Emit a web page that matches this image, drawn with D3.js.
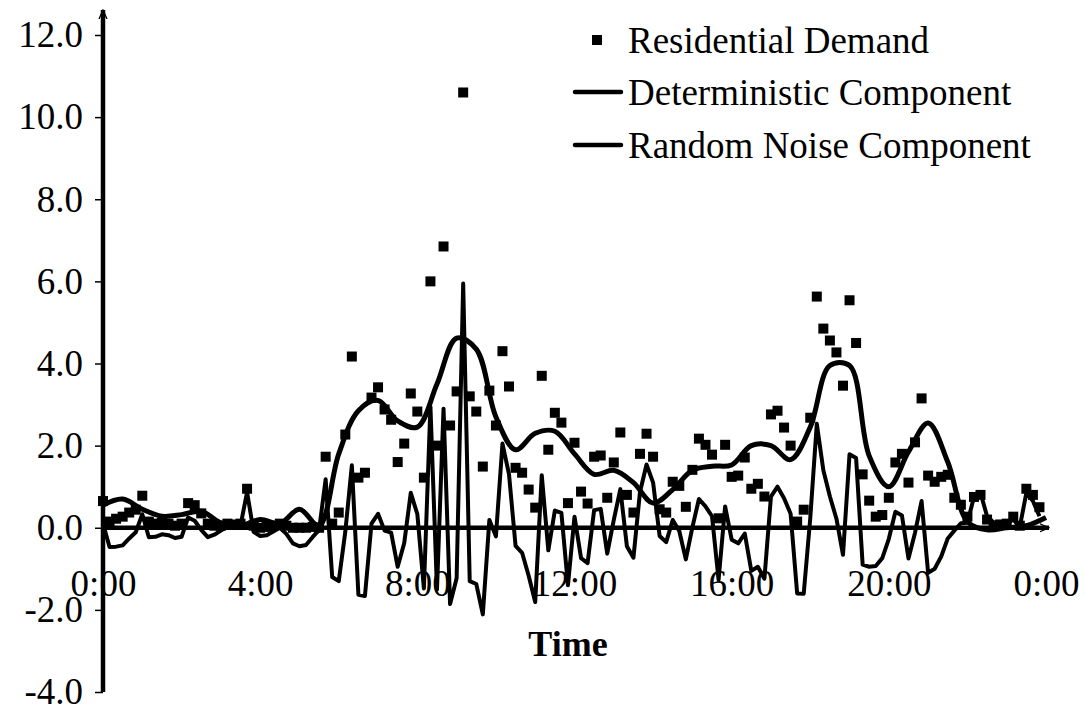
<!DOCTYPE html>
<html>
<head>
<meta charset="utf-8">
<script src="https://cdn.jsdelivr.net/npm/d3@7"></script>
<style>
  body { margin: 0; background: #fff; }
  text { font-family: "Liberation Serif", "Times New Roman", serif; fill: #000; }
</style>
</head>
<body>
<div id="viz"></div>
<script>
// residential demand, one reading every 10 minutes (0:00 .. 23:50)
var demand = [
  0.65, 0.15, 0.22, 0.27, 0.37, 0.44, 0.78, 0.15, 0.1, 0.12, 0.1, 0.05,
  0.1, 0.6, 0.55, 0.35, 0.1, 0.05, 0.05, 0.1, 0.08, 0.1, 0.95, 0.05,
  0.0, 0.02, 0.05, 0.1, 0.05, 0.0, 0.0, 0.0, 0.02, 0.0, 1.73, 0.1,
  0.37, 2.27, 4.17, 1.22, 1.34, 3.17, 3.42, 2.88, 2.63, 1.6, 2.05, 3.27,
  2.83, 1.22, 6.0, 2.0, 6.85, 2.49, 3.32, 10.6, 3.2, 2.83, 1.49, 3.34,
  2.49, 4.3, 3.44, 1.46, 1.34, 0.93, 0.49, 3.7, 1.9, 2.8, 2.56, 0.6,
  2.07, 0.88, 0.59, 1.73, 1.76, 0.73, 1.59, 2.32, 0.8, 0.37, 1.8, 2.29,
  1.73, 0.45, 0.37, 1.12, 1.02, 0.51, 1.41, 2.17, 2.02, 1.78, 0.23, 2.02,
  1.24, 1.27, 1.71, 0.95, 1.07, 0.76, 2.76, 2.85, 2.44, 2.0, 0.15, 0.44,
  2.68, 5.63, 4.85, 4.56, 4.27, 3.46, 5.54, 4.5, 1.3, 0.66, 0.27, 0.31,
  0.73, 1.59, 1.8, 1.1, 2.08, 3.15, 1.27, 1.12, 1.24, 1.29, 0.73, 0.56,
  0.27, 0.75, 0.8, 0.2, 0.05, 0.08, 0.1, 0.27, 0.05, 0.95, 0.8, 0.5
];

// random noise component, same 10 minute grid
var noise = [
  0.1, -0.47, -0.46, -0.43, -0.26, -0.11, 0.33, -0.23, -0.22, -0.16, -0.18, -0.25,
  -0.22, 0.25, 0.17, -0.05, -0.23, -0.17, -0.07, 0.03, 0.03, 0.05, 0.87, -0.1,
  -0.2, -0.18, -0.09, 0.0, -0.15, -0.38, -0.45, -0.42, -0.23, -0.05, 1.18, -1.2,
  -1.3, -0.1, 1.52, -1.63, -1.66, 0.1, 0.34, -0.07, -0.12, -0.95, -0.37, 0.85,
  0.33, -1.48, 2.95, -1.5, 2.9, -1.86, -1.23, 5.95, -1.3, -1.37, -2.11, 0.19,
  -0.21, 2.05, 1.3, -0.44, -0.61, -1.17, -1.81, 1.28, -0.55, 0.42, 0.36, -1.4,
  0.27, -0.74, -0.86, 0.43, 0.46, -0.63, 0.19, 0.94, -0.45, -0.73, 0.87, 1.54,
  1.1, -0.2, -0.35, 0.19, -0.08, -0.77, 0.01, 0.7, 0.52, 0.28, -1.27, 0.52,
  -0.29, -0.38, -0.14, -1.05, -0.95, -1.24, 0.76, 1.0, 0.72, 0.34, -1.6, -1.61,
  0.23, 2.53, 1.4, 0.76, 0.22, -0.66, 1.79, 1.7, -0.9, -0.95, -0.93, -0.74,
  -0.27, 0.39, 0.3, -0.75, -0.12, 0.65, -1.1, -1.0, -0.7, -0.26, -0.07, 0.11,
  0.12, 0.75, 0.85, 0.28, 0.13, 0.13, 0.1, 0.2, 0.02, 0.85, 0.65, 0.28
];

// deterministic component, every 30 minutes (0:00 .. 24:00)
var deterministic = [
  0.55, 0.7, 0.45, 0.28, 0.32, 0.4, 0.12, 0.05, 0.2, 0.1, 0.45, 0.05,
  1.8, 2.85, 3.1, 2.6, 2.45, 3.5, 4.62, 4.35, 2.7, 1.9, 2.3, 2.35,
  1.8, 1.3, 1.4, 1.1, 0.6, 0.93, 1.4, 1.5, 1.53, 2.0, 2.0, 1.66,
  2.45, 3.95, 3.95, 1.75, 1.0, 1.85, 2.55, 1.6, 0.15, -0.05, 0.0, 0.05,
  0.25
];

var demandMinutes = d3.range(0, 1440, 10);
var detMinutes = d3.range(0, 1441, 30);

var xTicks = [0, 240, 480, 720, 960, 1200, 1440];
var xTickLabels = ['0:00', '4:00', '8:00', '12:00', '16:00', '20:00', '0:00'];
var yTicks = [-4, -2, 0, 2, 4, 6, 8, 10, 12];

var legendNames = ['Residential Demand', 'Deterministic Component', 'Random Noise Component'];

var width = 1086,
    height = 707,
    fontSize = 37;

var x = d3.scaleLinear().domain([0, 1440]).range([103, 1046]);
var y = d3.scaleLinear().domain([-4, 12]).range([692, 35]);

var svg = d3.select('#viz').append('svg')
    .attr('width', width)
    .attr('height', height);

var defs = svg.append('defs');
defs.append('marker')
    .attr('id', 'arrow')
    .attr('viewBox', '0 -5 10 10')
    .attr('refX', 9)
    .attr('refY', 0)
    .attr('markerWidth', 10)
    .attr('markerHeight', 10)
    .attr('markerUnits', 'userSpaceOnUse')
    .attr('orient', 'auto')
  .append('path')
    .attr('d', 'M0,-4L9,0L0,4')
    .attr('fill', 'none')
    .attr('stroke', '#000')
    .attr('stroke-width', 1.3);

// y axis ticks + labels
var yAxis = svg.append('g')
    .attr('transform', 'translate(' + x(0) + ',0)')
    .call(d3.axisLeft(y)
        .tickValues(yTicks)
        .tickSize(8)
        .tickPadding(12)
        .tickFormat(function(d) { return d.toFixed(1); }));
yAxis.select('.domain').remove();
yAxis.selectAll('line').attr('stroke', '#000').attr('stroke-width', 1.5);
yAxis.selectAll('text')
    .style('font-family', '"Liberation Serif", serif')
    .style('font-size', fontSize + 'px');

// x axis labels
var xAxis = svg.append('g')
    .attr('transform', 'translate(0,' + y(0) + ')')
    .call(d3.axisBottom(x)
        .tickValues(xTicks)
        .tickSize(0)
        .tickPadding(42)
        .tickFormat(function(d, i) { return xTickLabels[i]; }));
xAxis.select('.domain').remove();
xAxis.selectAll('text')
    .style('font-family', '"Liberation Serif", serif')
    .style('font-size', fontSize + 'px');

// main axis lines with arrows
svg.append('line')
    .attr('x1', x(0)).attr('x2', x(0))
    .attr('y1', y(-4)).attr('y2', 10)
    .attr('stroke', '#000').attr('stroke-width', 4.5)
    .attr('marker-end', 'url(#arrow)');
svg.append('line')
    .attr('x1', x(0)).attr('x2', 1049)
    .attr('y1', y(0)).attr('y2', y(0))
    .attr('stroke', '#000').attr('stroke-width', 4.5)
    .attr('marker-end', 'url(#arrow)');

// noise line
var noiseLine = d3.line()
    .x(function(d, i) { return x(demandMinutes[i]); })
    .y(function(d) { return y(d); });

svg.append('path')
    .datum(noise)
    .attr('d', noiseLine)
    .attr('fill', 'none')
    .attr('stroke', '#000')
    .attr('stroke-width', 4)
    .attr('stroke-linejoin', 'round');

// deterministic smooth line
var detLine = d3.line()
    .x(function(d, i) { return x(detMinutes[i]); })
    .y(function(d) { return y(d); })
    .curve(d3.curveCatmullRom.alpha(0.5));

svg.append('path')
    .datum(deterministic)
    .attr('d', detLine)
    .attr('fill', 'none')
    .attr('stroke', '#000')
    .attr('stroke-width', 5)
    .attr('stroke-linejoin', 'round');

// demand markers
svg.selectAll('rect.pt').data(demand)
    .enter().append('rect')
    .attr('class', 'pt')
    .attr('x', function(d, i) { return x(demandMinutes[i]) - 5; })
    .attr('y', function(d) { return y(d) - 5; })
    .attr('width', 10)
    .attr('height', 10)
    .attr('fill', '#000');

// axis title
svg.append('text')
    .attr('x', 568)
    .attr('y', 656)
    .attr('text-anchor', 'middle')
    .style('font-size', '36px')
    .style('font-weight', 'bold')
    .text('Time');

// legend
var legend = svg.append('g');
var rowY = [40, 92, 145];
legend.append('rect')
    .attr('x', 592).attr('y', rowY[0] - 5)
    .attr('width', 10).attr('height', 10)
    .attr('fill', '#000');
legend.selectAll('line').data([1, 2])
    .enter().append('line')
    .attr('x1', 575).attr('x2', 621)
    .attr('y1', function(d) { return rowY[d]; })
    .attr('y2', function(d) { return rowY[d]; })
    .attr('stroke', '#000')
    .attr('stroke-width', 4.5)
    .attr('stroke-linecap', 'round');
legend.selectAll('text').data(legendNames)
    .enter().append('text')
    .attr('x', 628)
    .attr('y', function(d, i) { return rowY[i] + 13; })
    .style('font-size', fontSize + 'px')
    .text(function(d) { return d; });
</script>
</body>
</html>
